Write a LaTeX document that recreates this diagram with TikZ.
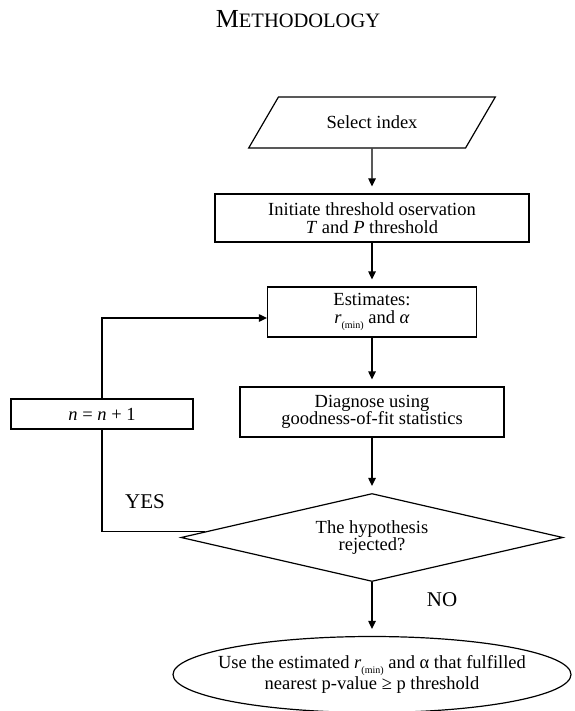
\documentclass[tikz,border=0pt]{standalone}
\usepackage{fontspec}
\setmainfont{Liberation Serif}
\usetikzlibrary{shapes.geometric, positioning, arrows.meta}
\newcommand{\rmin}{\raisebox{-5pt}{\fontsize{10}{10}\selectfont(min)}}

\begin{document}
\begin{tikzpicture}[x=1pt,y=1pt,->,>={Triangle[length=8pt,width=7.5pt]},shorten >=7pt,line width=1.2pt,
        font=\fontsize{18.5}{17.5}\selectfont,
        process node/.style={rectangle,draw,align=center,inner sep=0pt},
        io node/.style={trapezium,trapezium left angle=42,trapezium right angle=138,
                        trapezium stretches=true,draw,minimum width=247pt,minimum height=51pt,inner sep=0pt},
        decision node/.style={diamond,aspect=4.34,draw,align=center,minimum width=382pt,
                        minimum height=88pt,inner sep=0pt},
        end node/.style={ellipse,draw,align=center,minimum width=398pt,minimum height=76pt,
                        inner xsep=-14pt,inner ysep=0pt},
        answer/.style={font=\fontsize{21}{21}\selectfont}]

    \useasboundingbox (0,0) rectangle (574,-711);

    \node[anchor=base,inner sep=0pt] (title) at (298,-28)
        {\fontsize{26}{26}\selectfont M\fontsize{20.5}{20.5}\selectfont ETHODOLOGY};

    \node[io node] (sel) at (372,-122.5) {Select index};
    \node[process node, minimum width=314pt, minimum height=48pt] (init) [below of=sel, node distance=95.5pt]
        {Initiate threshold oservation\\ \textit{T} and \textit{P} threshold};
    \node[process node, minimum width=209pt, minimum height=50pt] (est) [below of=init, node distance=94pt]
        {Estimates:\\ \textit{r}\rmin{} and \textit{α}};
    \node[process node, minimum width=264pt, minimum height=50pt] (diag) [below of=est, node distance=100pt]
        {Diagnose using\\ goodness-of-fit statistics};
    \node[decision node] (hyp) [below of=diag, node distance=125.5pt] {The hypothesis\\ rejected?};
    \node[end node] (result) [below of=hyp, node distance=137pt]
        {Use the estimated \textit{r}\rmin{} and α that fulfilled\\ nearest p-value ≥ p threshold};
    \node[process node, minimum width=182pt, minimum height=30pt] (incr) at (102,-414)
        {\textit{n} = \textit{n} + 1};

    \node[answer] (yes) at (145,-502) {YES};
    \node[answer] (no) at (442,-600) {NO};

    \path (sel) edge (init)
        (init) edge (est)
        (est) edge (diag)
        (diag) edge (hyp)
        (hyp) edge (result);
    \draw[-,shorten >=0pt] (hyp.178) -| (incr.south);
    \draw[shorten >=0pt] (incr.north) |- ([yshift=-6pt]est.west);
\end{tikzpicture}
\end{document}
